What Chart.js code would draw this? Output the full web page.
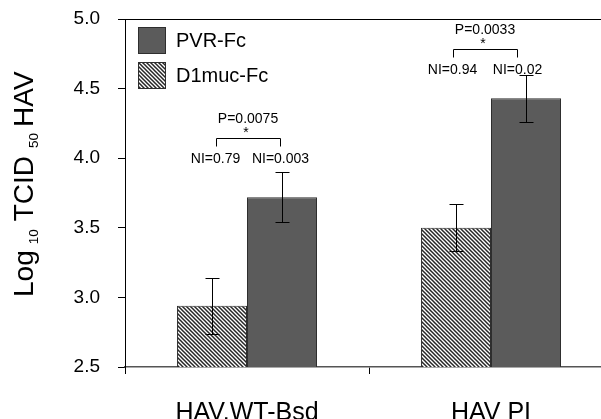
<!DOCTYPE html>
<html>
<head>
<meta charset="utf-8">
<script src="https://cdn.jsdelivr.net/npm/chart.js@4/dist/chart.umd.min.js"></script>
<style>
  html, body { margin: 0; padding: 0; background: #fff; overflow: hidden; }
  #wrap { position: relative; width: 640px; height: 419px; }
</style>
</head>
<body>
<div id="wrap"><canvas id="c"></canvas></div>
<script>
// ---- data ----
const categories = ['HAV.WT-Bsd', 'HAV PI'];
const d1mucValues = [2.94, 3.50];
const d1mucErrors = [0.20, 0.17];
const pvrValues = [3.72, 4.43];
const pvrErrors = [0.18, 0.17];
const yTickValues = [2.5, 3.0, 3.5, 4.0, 4.5, 5.0];
const pLabels = ['P=0.0075', 'P=0.0033'];
const niD1muc = ['NI=0.79', 'NI=0.94'];
const niPvr = ['NI=0.003', 'NI=0.02'];

// ---- styles ----
const FONT = '"Liberation Sans", Arial, Helvetica, sans-serif';
const DARK = '#5b5b5b';
const EDGE = '#2e2e2e';
const annotStyle = {
  bracketLevel: [4.143, 4.784],   // y (value units) of bracket bar
  centerShift: [1, -6],           // px shift of bracket centre vs category centre
  halfWidth: 32,
  leg: 8
};

function makeHatch() {
  const t = document.createElement('canvas');
  t.width = 4; t.height = 4;
  const g = t.getContext('2d');
  g.fillStyle = '#ffffff';
  g.fillRect(0, 0, 4, 4);
  g.strokeStyle = '#262626';
  g.lineWidth = 1.5;
  g.beginPath();
  g.moveTo(-1, -1); g.lineTo(5, 5);
  g.moveTo(-1, 3); g.lineTo(1, 5);
  g.moveTo(3, -1); g.lineTo(5, 1);
  g.stroke();
  return g.createPattern(t, 'repeat');
}
const hatch = makeHatch();

const errorBars = {
  id: 'errorBars',
  afterDatasetsDraw(chart) {
    const ctx = chart.ctx;
    const y = chart.scales.y;
    const errs = [d1mucErrors, pvrErrors];
    ctx.save();
    ctx.strokeStyle = '#000';
    ctx.lineWidth = 1;
    chart.data.datasets.forEach((ds, di) => {
      const meta = chart.getDatasetMeta(di);
      meta.data.forEach((el, i) => {
        const v = ds.data[i], e = errs[di][i];
        const x = Math.round(el.x) + 0.5;
        const yt = Math.round(y.getPixelForValue(v + e)) + 0.5;
        const yb = Math.round(y.getPixelForValue(v - e)) + 0.5;
        ctx.beginPath();
        ctx.moveTo(x, yt); ctx.lineTo(x, yb);
        ctx.moveTo(x - 7, yt); ctx.lineTo(x + 7, yt);
        ctx.moveTo(x - 7, yb); ctx.lineTo(x + 7, yb);
        ctx.stroke();
      });
    });
    ctx.restore();
  }
};

const annotations = {
  id: 'annotations',
  afterDraw(chart) {
    const ctx = chart.ctx;
    const xs = chart.scales.x, ys = chart.scales.y;
    ctx.save();
    ctx.fillStyle = '#000';
    ctx.strokeStyle = '#000';
    ctx.lineWidth = 1;
    ctx.textAlign = 'center';
    ctx.textBaseline = 'middle';
    categories.forEach((c, i) => {
      const cx = xs.getPixelForValue(i) + annotStyle.centerShift[i];
      const by = Math.round(ys.getPixelForValue(annotStyle.bracketLevel[i])) + 0.5;
      const l = Math.round(cx - annotStyle.halfWidth) + 0.5;
      const r = Math.round(cx + annotStyle.halfWidth) + 0.5;
      ctx.beginPath();
      ctx.moveTo(l, by + annotStyle.leg); ctx.lineTo(l, by);
      ctx.lineTo(r, by); ctx.lineTo(r, by + annotStyle.leg);
      ctx.stroke();
      ctx.font = '14px ' + FONT;
      ctx.fillText(pLabels[i], cx, by - 19);
      ctx.fillText('*', cx - 2, by - 5);
      ctx.fillText(niD1muc[i], l - 1, by + 21);
      ctx.fillText(niPvr[i], r, by + 21);
    });
    ctx.restore();
  }
};

const customLegend = {
  id: 'customLegend',
  afterDraw(chart) {
    const ctx = chart.ctx;
    const ca = chart.chartArea;
    const order = [1, 0];
    ctx.save();
    order.forEach((di, k) => {
      const ds = chart.data.datasets[di];
      const bx = ca.left + 13.5, by = ca.top + 8.5 + k * 35;
      ctx.fillStyle = ds.backgroundColor;
      ctx.fillRect(bx, by, 27, 26);
      ctx.strokeStyle = EDGE;
      ctx.lineWidth = 1;
      ctx.strokeRect(bx, by, 27, 26);
      ctx.fillStyle = '#000';
      ctx.font = '20px ' + FONT;
      ctx.textAlign = 'left';
      ctx.textBaseline = 'middle';
      ctx.fillText(ds.label, ca.left + 51, by + 14);
    });
    ctx.restore();
  }
};

const yTitle = {
  id: 'yTitle',
  afterDraw(chart) {
    const ctx = chart.ctx;
    ctx.save();
    ctx.translate(33, 297);
    ctx.rotate(-Math.PI / 2);
    ctx.fillStyle = '#000';
    ctx.textAlign = 'left';
    ctx.textBaseline = 'alphabetic';
    const big = '28px ' + FONT, small = '13.5px ' + FONT;
    const parts = [
      ['Log', big, 0, 0], ['10', small, 5, 6], ['TCID', big, 0, 8],
      ['50', small, 5, 8], ['HAV', big, 0, 6]
    ];
    let x = 0;
    parts.forEach(([t, f, dy, gap]) => {
      x += gap;
      ctx.font = f;
      ctx.fillText(t, x, dy);
      x += ctx.measureText(t).width;
    });
    ctx.restore();
  }
};

new Chart(document.getElementById('c'), {
  type: 'bar',
  data: {
    labels: categories,
    datasets: [
      {
        label: 'D1muc-Fc',
        data: d1mucValues,
        backgroundColor: hatch,
        borderColor: EDGE,
        borderWidth: 1,
        borderSkipped: false,
        categoryPercentage: 0.574,
        barPercentage: 1.0
      },
      {
        label: 'PVR-Fc',
        data: pvrValues,
        backgroundColor: DARK,
        borderColor: EDGE,
        borderWidth: 1,
        borderSkipped: false,
        categoryPercentage: 0.574,
        barPercentage: 1.0
      }
    ]
  },
  options: {
    responsive: true,
    maintainAspectRatio: false,
    animation: false,
    layout: { padding: { top: 19, right: 27, bottom: 0, left: 0 } },
    plugins: { legend: { display: false }, tooltip: { enabled: false } },
    scales: {
      x: {
        type: 'category',
        position: 'bottom',
        offset: true,
        grid: { display: true, drawOnChartArea: false, drawTicks: true, tickLength: 7, offset: true, color: '#000' },
        border: { display: true, color: '#555', width: 1.5 },
        ticks: { color: '#000', padding: 24, font: { family: FONT, size: 25 } },
        afterFit(s) { s.height = 52; s.paddingLeft = 0; s.paddingRight = 0; }
      },
      x2: {
        type: 'category',
        position: 'top',
        grid: { display: false, drawTicks: false },
        border: { display: true, color: '#000', width: 1 },
        ticks: { display: false },
        afterFit(s) { s.height = 0; s.paddingLeft = 0; s.paddingRight = 0; }
      },
      y: {
        min: 2.5,
        max: 5.0,
        grid: { display: true, drawOnChartArea: false, drawTicks: true, tickLength: 7, color: '#000' },
        border: { display: true, color: '#000', width: 1 },
        afterBuildTicks(s) { s.ticks = yTickValues.map(v => ({ value: v })); },
        ticks: {
          color: '#000',
          padding: 18,
          font: { family: FONT, size: 19 },
          callback: v => Number(v).toFixed(1)
        },
        afterFit(s) { s.width = 125; s.paddingTop = 0; s.paddingBottom = 0; }
      }
    }
  },
  plugins: [errorBars, annotations, customLegend, yTitle]
});
</script>
</body>
</html>
